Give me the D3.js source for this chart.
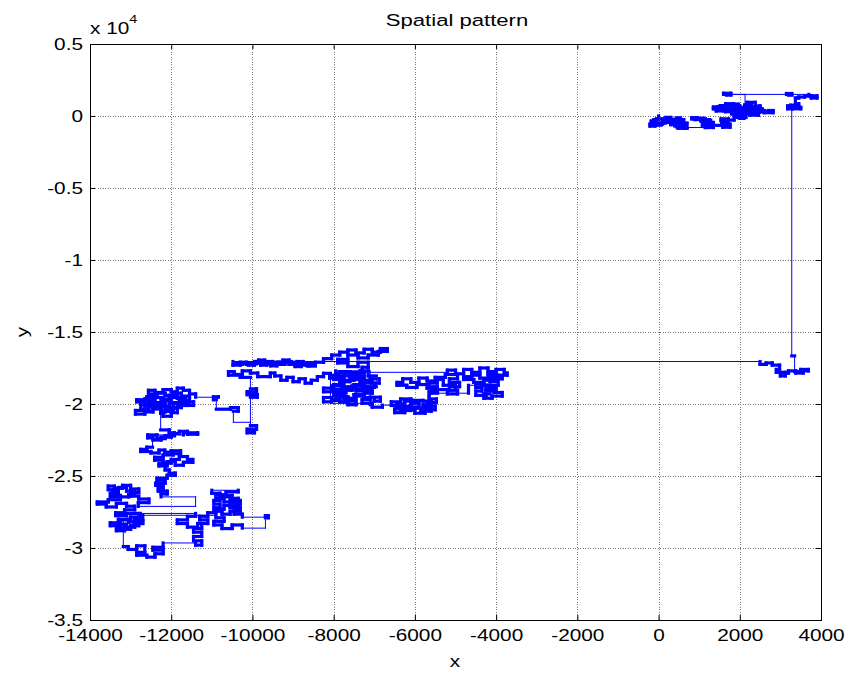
<!DOCTYPE html>
<html><head><meta charset="utf-8">
<script src="https://cdn.jsdelivr.net/npm/d3@7"></script>
<style>
html,body{margin:0;padding:0;background:#fff;}
text{font-family:"Liberation Sans",Arial,sans-serif;fill:#000;}
</style></head><body>
<svg id="chart" width="862" height="680"></svg>
<script>
// Axis ticks and labels
const xTicks = [-14000,-12000,-10000,-8000,-6000,-4000,-2000,0,2000,4000];
const yTicks = [-35000,-30000,-25000,-20000,-15000,-10000,-5000,0,5000];
const yTickLabels = ["-3.5","-3","-2.5","-2","-1.5","-1","-0.5","0","0.5"];
const titleText = "Spatial pattern";
const xLabelText = "x";
const yLabelText = "y";

// Walk positions [x, y], in walk order, grouped by region
const walkNorthEast = [[0,0],[0,-250],[-120,-250],[-120,-420],[-60,-420],[-60,-560],[-210,-560],[-210,-700],[-90,-700],[-90,-620],[60,-620],
[-30,-500],[-180,-500],[-180,-350],[-50,-350],[-50,-200],[100,-200],[100,-550],[60,-550],
[60,-480],[160,-480],[160,-330],[180,-330],[180,-100],[300,-100],[300,-230],[440,-230],[440,-140],[540,-140],[540,-330],[360,-330],[360,-450],[580,-450],[580,-560],[400,-560],[400,-680],[520,-680],[520,-620],[650,-620],[650,-780],[480,-780],[480,-850],[700,-850],
[600,-750],[450,-750],[450,-600],[300,-600],[300,-450],[200,-450],[200,-250],[350,-250],[350,-400],[500,-400],[500,-250],[620,-250],[620,-500],[700,-500],
[700,-800],[1200,-800],[1200,-650],[1340,-650],[1340,-500],[1100,-500],[1100,-400],[1280,-400],[1280,-300],[1150,-300],[1150,-200],[960,-200],[960,-120],[820,-120],[820,-200],[1040,-200],[1040,-320],[1220,-320],[1220,-560],[1080,-560],[1080,-700],[1300,-700],[1300,-600],
[1300,-450],[1180,-450],[1180,-350],[1050,-350],[1050,-250],[900,-250],[900,-160],[1100,-160],[1100,-250],[1250,-250],[1250,-450],[1350,-450],[1350,-800],[1150,-800],[1150,-650],[1300,-650],
[1560,-600],[1560,-450],[1700,-450],[1700,-700],[1580,-700],[1580,-780],[1760,-780],[1760,-560],[1640,-560],[1640,-330],[1540,-330],[1540,-200],[1720,-200],[1720,-280],[1860,-280],[1860,-50],[2000,-50],[2000,-160],[2100,-160],[2100,100],[1900,100],[1900,250],[2060,250],[2060,380],[1800,380],[1800,450],[1600,450],[1600,350],[1420,350],[1420,500],[1350,500],[1350,620],[1520,620],[1520,720],[1700,720],[1700,560],[1880,560],[1880,680],[1760,680],[1760,820],[1960,820],[1960,600],[2120,600],[2120,760],[2280,760],[2280,900],[2180,900],[2180,950],[2380,950],[2380,700],[2500,700],[2500,520],[2300,520],[2300,420],[2150,420],[2150,300],[2400,300],[2400,180],[2250,180],[2250,60],[2460,60],[2460,380],[2600,380],[2600,230],[2820,230],[2820,380],[2700,380],[2700,300],[2550,300],[2550,500],[2380,500],[2380,620],[2200,620],[2200,520],[2000,520],[2000,700],
[1850,700],[1850,850],[1650,850],[1650,650],[1450,650],[1450,420],[1650,420],[1650,300],[1800,300],[1800,150],[1950,150],[1950,-100],[2150,-100],[2150,150],[2350,150],[2350,420],[2480,420],[2480,250],[2130,250],[2130,700],[2130,1500],
[1600,1500],[1600,1580],[1780,1580],[1780,1460],[1680,1460],[1680,1500],[3150,1500],[3150,1560],[3280,1560],[3280,1460],[3200,1460],[3200,1500],[3700,1500],[3700,1400],[3900,1400],[3900,1250],[3760,1250],[3760,1400],[3600,1400],[3600,1320],[3450,1320],[3450,1250],[3370,1250],[3370,850],[3450,850],[3450,750],[3250,750],[3250,600],[3500,600],[3500,500],[3300,500],[3300,700],[3180,700],[3180,500],[3280,500],[3280,-16660]];

const walkEastDrop = [[3350,-16660],[3350,-17750],[3500,-17750],[3500,-17600],[3690,-17600],[3690,-17700],[3560,-17700],[3560,-17850],[3380,-17850],[3380,-17700],[3200,-17700],[3200,-17850],[3000,-17850],[3000,-18050],[3120,-18050],[3120,-17800],[2900,-17800],[2900,-17600],[2980,-17600],[2980,-17300],[2800,-17300],[2800,-17150],[2650,-17150],[2650,-17250],[2500,-17250],[2500,-17050]];

const walkCentral = [[-10480,-17050],[-10480,-17300],[-10300,-17300],[-10300,-17100],[-10150,-17100],[-10150,-17250],[-10000,-17250],[-10000,-17150],[-9850,-17150],[-9850,-16950],[-9700,-16950],[-9700,-17200],[-9550,-17200],[-9550,-17350],[-9400,-17350],[-9400,-17100],[-9250,-17100],[-9250,-16950],[-9100,-16950],[-9100,-17250],[-8950,-17250],[-8950,-17400],[-8800,-17400],[-8800,-17150],[-8650,-17150],[-8650,-17350],[-8450,-17350],
[-8600,-17250],[-8750,-17250],[-8750,-17050],[-8900,-17050],[-8900,-17150],[-9050,-17150],[-9050,-17050],[-9200,-17050],[-9200,-17250],[-9350,-17250],[-9350,-17150],[-9500,-17150],[-9500,-17050],[-9650,-17050],[-9650,-17300],[-9800,-17300],[-9800,-17050],[-9950,-17050],[-9950,-17300],[-10100,-17300],[-10100,-17150],[-10250,-17150],[-10250,-17250],[-10400,-17250],[-10400,-17150],
[-10150,-17200],[-9900,-17200],[-9900,-17100],[-9600,-17100],[-9600,-17250],[-9350,-17250],[-9350,-17100],[-9100,-17100],[-8850,-17100],[-8850,-17300],[-8600,-17300],[-8600,-17200],[-8450,-17200],
[-8450,-17100],[-8250,-17100],[-8250,-16850],[-8050,-16850],[-8050,-16600],[-7850,-16600],[-7850,-16400],[-7650,-16400],[-7650,-16250],[-7450,-16250],[-7450,-16450],[-7250,-16450],[-7250,-16200],[-7050,-16200],[-7050,-16400],[-6850,-16400],[-6850,-16150],[-6680,-16150],[-6680,-16350],[-6900,-16350],[-6900,-16600],[-7150,-16600],[-7150,-16800],[-7400,-16800],[-7400,-16600],[-7650,-16600],[-7650,-16900],[-7900,-16900],[-7900,-17150],[-7650,-17150],[-7650,-17400],[-7400,-17400],[-7400,-17100],[-7150,-17100],[-7150,-17450],[-7300,-17450],[-7300,-17800],
[-5200,-17800],[-5200,-17650],[-5000,-17650],[-5000,-17900],[-4800,-17900],[-4800,-17600],[-4600,-17600],[-4600,-17800],[-4400,-17800],[-4400,-17500],[-4200,-17500],[-4200,-17750],[-4000,-17750],[-4000,-17600],[-3800,-17600],[-3800,-17850],[-3730,-17850],[-3730,-18000],[-3950,-18000],[-3950,-18150],[-4150,-18150],[-4150,-18450],[-3950,-18450],[-3950,-18700],[-4250,-18700],[-4250,-18950],[-4050,-18950],[-4050,-19200],[-3850,-19200],[-3850,-19450],[-4100,-19450],[-4100,-19600],[-4300,-19600],[-4300,-19300],[-4150,-19300],[-4150,-18700],
[-4350,-18500],[-4550,-18500],[-4550,-18300],[-4800,-18300],[-4800,-18100],[-4600,-18100],[-4600,-18000],[-4400,-18000],[-4400,-18200],[-4200,-18200],[-4200,-17950],[-4000,-17950],[-4000,-18250],[-3850,-18250],[-3850,-18050],[-4050,-18050],[-4050,-18350],[-4300,-18350],[-4300,-18600],[-4500,-18600],[-4500,-18850],[-4350,-18850],[-4350,-19100],[-4500,-19100],[-4500,-19400],[-4250,-19400],[-4250,-19100],[-4000,-19100],[-4000,-18850],[-4150,-18850],[-4150,-18700],
[-4680,-18700],[-4680,-19250],[-5440,-19250],
[-5600,-19250],[-5600,-19050],[-5450,-19050],[-5450,-18800],[-5650,-18800],[-5650,-18550],[-5450,-18550],[-5450,-18300],[-5300,-18300],[-5300,-18700],[-5000,-18700],[-5000,-19000],
[-5440,-19000],[-5200,-19000],[-5200,-19300],[-4950,-19300],[-4950,-19050],[-5150,-19050],[-5150,-18800],[-4900,-18800],[-4900,-18500],[-5150,-18500],[-5150,-18250],[-4950,-18250],[-4950,-17950],[-5250,-17950],[-5250,-18150],[-5500,-18150],[-5500,-18400],[-5700,-18400],[-5700,-18200],[-5900,-18200],[-5900,-18500],[-6100,-18500],[-6100,-18250],[-6300,-18250],[-6300,-18500],[-6440,-18500],[-6440,-18700],[-6200,-18700],[-6200,-18850],[-5950,-18850],[-5950,-18650],[-5700,-18650],[-5700,-18900],[-5500,-18900],[-5500,-19150],[-5650,-19150],[-5650,-19400],
[-5650,-19650],[-5470,-19650],[-5470,-19900],[-5700,-19900],[-5700,-20150],[-5500,-20150],[-5500,-20400],[-5750,-20400],[-5750,-20640],[-6000,-20640],[-6000,-20400],[-6250,-20400],[-6250,-20600],[-6500,-20600],[-6500,-20350],[-6300,-20350],[-6300,-20100],[-6580,-20100],[-6580,-19850],[-6350,-19850],[-6350,-19650],[-6100,-19650],[-6100,-19950],[-5900,-19950],[-5900,-20200],[-6100,-20200],
[-6350,-20250],[-6350,-20450],[-6100,-20450],[-6100,-20300],[-5850,-20300],[-5850,-20500],[-5600,-20500],[-5600,-20250],[-5800,-20250],[-5800,-20050],[-5600,-20050],[-5600,-19800],[-5800,-19800],[-5800,-19750],[-6050,-19750],[-6050,-19800],[-6250,-19800],[-6250,-20000],[-6450,-20000],[-6450,-20200],[-6100,-20200],
[-6100,-20080],[-6800,-20080],
[-6800,-20220],[-7050,-20220],[-7050,-19950],[-7300,-19950],[-7300,-19700],[-7100,-19700],[-7100,-19530],[-6850,-19530],[-6850,-19800],[-7000,-19800],[-7000,-19550],
[-7250,-19550],[-7250,-19350],[-7500,-19350],[-7500,-19650],[-7750,-19650],[-7750,-19400],[-8000,-19400],[-8000,-19150],[-8250,-19150],[-8250,-18900],[-8000,-18900],[-8000,-18650],[-7750,-18650],[-7750,-18900],[-7500,-18900],[-7500,-18650],[-7250,-18650],[-7250,-18850],[-7000,-18850],[-7000,-18550],[-6880,-18550],[-6880,-18250],[-7100,-18250],[-7100,-18450],[-7350,-18450],[-7350,-18200],[-7600,-18200],[-7600,-18450],[-7850,-18450],[-7850,-18200],[-8100,-18200],[-8100,-18000],[-7850,-18000],[-7850,-17750],[-7600,-17750],[-7600,-17950],[-7350,-17950],[-7350,-17700],[-7150,-17700],[-7150,-18050],[-6950,-18050],[-6950,-18800],[-7200,-18800],[-7200,-19100],[-7450,-19100],[-7450,-18950],[-7700,-18950],[-7700,-19200],[-7950,-19200],[-7950,-19450],[-7700,-19450],[-7700,-19800],[-7450,-19800],[-7450,-20050],
[-7650,-20050],[-7650,-19850],[-7850,-19850],[-7850,-19750],[-8050,-19750],[-8050,-19850],[-8250,-19850],[-8250,-19550],[-8050,-19550],[-8050,-19650],[-7850,-19650],[-7850,-19500],[-7650,-19500],[-7650,-19600],[-7450,-19600],[-7450,-19450],[-7250,-19450],[-7250,-19250],[-7050,-19250],[-7050,-19050],[-7300,-19050],[-7300,-18950],[-7550,-18950],[-7550,-19050],[-7800,-19050],[-7800,-19000],[-8050,-19000],[-8050,-18750],[-7800,-18750],[-7800,-18800],[-7550,-18800],[-7550,-18750],[-7300,-18750],[-7300,-18550],[-7050,-18550],[-7050,-18350],[-7250,-18350],[-7250,-18300],[-7500,-18300],[-7500,-18350],[-7750,-18350],[-7750,-18300],[-8000,-18300],[-8000,-18100],[-7750,-18100],[-7750,-18050],[-7500,-18050],[-7500,-18100],[-7250,-18100],[-7250,-17850],[-7450,-17850],[-7450,-17800],[-7700,-17800],[-7700,-17850],[-7950,-17850],[-7950,-17700],[-7100,-17700],
[-7100,-20050],[-7100,-19950],[-8080,-19950],[-8080,-17870],[-8250,-17870],
[-8250,-18100],[-8400,-18100],[-8400,-18350],[-8550,-18350],[-8550,-18550],[-8700,-18550],[-8700,-18250],[-8850,-18250],[-8850,-18450],[-9000,-18450],[-9000,-18150],[-9150,-18150],[-9150,-18350],[-9300,-18350],[-9300,-18050],[-9450,-18050],[-9450,-17850],[-9560,-17850],[-9560,-18100],
[-9870,-18100],[-9870,-17850],[-10050,-17850],[-10050,-17700],[-10250,-17700],[-10250,-17950],[-10450,-17950],[-10450,-17750],[-10590,-17750],[-10590,-18000],[-10300,-18000],[-10300,-18150],[-10050,-18150],
[-10050,-18950],[-9900,-18950],[-9900,-19150],[-10130,-19150],[-10130,-19350],[-9880,-19350],[-9880,-19530],[-10050,-19530],[-10050,-21500],[-9900,-21500],[-9900,-21750],[-10130,-21750],[-10130,-22000],[-9950,-22000],[-9950,-21850],[-10050,-21850],[-10050,-21270],[-10470,-21270],[-10470,-20500],[-10350,-20500],[-10350,-20250],[-10540,-20250],[-10540,-20360],[-10890,-20360],[-10890,-19700],[-10960,-19700],[-10960,-19500],[-10840,-19500],[-10840,-19530],[-11400,-19530]];

const walkWestUpper = [[-11400,-19300],[-11550,-19300],[-11550,-19050],[-11700,-19050],[-11700,-18900],[-11850,-18900],[-11850,-19150],[-12000,-19150],[-12000,-19000],[-12200,-19000],[-12200,-19200],[-12400,-19200],[-12400,-19050],[-12560,-19050],[-12560,-19300],[-12350,-19300],[-12350,-19500],[-12600,-19500],[-12600,-19700],[-12850,-19700],[-12850,-19850],[-12650,-19850],[-12650,-19650],[-12450,-19650],[-12450,-19900],[-12250,-19900],[-12250,-19650],[-12050,-19650],[-12050,-19400],[-11850,-19400],[-11850,-19600],[-11650,-19600],[-11650,-19850],[-11450,-19850],[-11450,-20100],[-11700,-20100],[-11700,-19950],[-11950,-19950],[-11950,-20200],[-12150,-20200],[-12150,-19950],[-12350,-19950],[-12350,-20150],[-12550,-20150],[-12550,-20050],[-12750,-20050],[-12750,-20350],[-12550,-20350],[-12550,-20450],[-12880,-20450],[-12880,-20700],[-12650,-20700],[-12650,-20550],[-12450,-20550],[-12450,-20350],[-12250,-20350],[-12250,-20500],[-12050,-20500],[-12050,-20300],[-11850,-20300],[-11850,-20600],[-12000,-20600],[-12000,-20850],[-12200,-20850],[-12200,-20650],[-12260,-20650],
[-12260,-20250],[-12450,-20250],[-12450,-20150],[-12650,-20150],[-12650,-19950],[-12450,-19950],[-12450,-20050],[-12250,-20050],[-12250,-20150],[-12050,-20150],[-12050,-19900],[-11850,-19900],[-11850,-20100],[-11600,-20100],[-11600,-19750],[-11800,-19750],[-11800,-19550],[-12000,-19550],[-12000,-19750],[-12200,-19750],[-12200,-19550],[-12400,-19550],[-12400,-19750],[-12550,-19750],[-12550,-19400],[-12350,-19400],[-12350,-19250],[-12150,-19250],[-12150,-19400],[-11950,-19400],[-11950,-19250],[-11750,-19250],[-11750,-19450],[-11550,-19450],[-11550,-19650],[-11550,-19900],[-11750,-19900],[-11750,-20250],[-11950,-20250],[-11950,-20400],[-12150,-20400],[-12150,-20550],[-12260,-20550],
[-12260,-21800],
[-12050,-21800],[-12050,-22000],[-11920,-22000],[-11920,-22200],[-12150,-22200],[-12150,-22400],[-12350,-22400],[-12350,-22150],[-12580,-22150],[-12580,-22350],[-12450,-22350],[-12450,-22500],[-12250,-22500],[-12250,-22300],[-12000,-22300],[-12000,-22050],[-11800,-22050],[-11800,-21900],[-11600,-21900],[-11600,-22100],[-11350,-22100],[-11350,-22000],[-11700,-22000],[-11700,-22150],[-12460,-22150],[-12460,-23000],
[-12600,-23000],[-12600,-23150],[-12750,-23150],[-12750,-23300],[-12500,-23300],[-12500,-23400],[-12300,-23400],[-12300,-23200],[-12160,-23200],[-12160,-23350],[-12000,-23350],[-12000,-23250],[-11770,-23250],[-11770,-23450],[-11950,-23450],[-11950,-23540],
[-12200,-23540],[-12200,-23700],[-12410,-23700],[-12410,-23900],[-12200,-23900],[-12200,-24100],[-12000,-24100],[-12000,-23850],[-11800,-23850],[-11800,-23650],[-11600,-23650],[-11600,-23850],[-11470,-23850],[-11470,-24050],[-11700,-24050],[-11700,-24250],[-11900,-24250],[-11900,-24000],[-12100,-24000],[-12100,-24300],[-12300,-24300],[-12300,-24150],[-12150,-24150],[-12150,-24580],[-12050,-24580]];

const walkWestLower = [[-12050,-24800],[-11900,-24800],[-11900,-24950],[-12100,-24950],[-12100,-25150],[-12350,-25150],[-12350,-25300],[-12150,-25300],[-12150,-25500],[-12380,-25500],[-12380,-25650],[-12200,-25650],[-12200,-25850],[-12320,-25850],[-12320,-26050],[-12100,-26050],[-12100,-26250],[-12250,-26250],[-12250,-26450],[-11400,-26450],[-11400,-27110],
[-12810,-27110],[-12810,-26850],[-12550,-26850],[-12550,-26600],[-12800,-26600],[-12800,-26400],[-13000,-26400],[-13000,-26150],[-12800,-26150],[-12800,-25900],[-13000,-25900],[-13000,-25650],[-13200,-25650],[-13200,-25850],[-13400,-25850],[-13400,-25700],[-13550,-25700],[-13550,-25950],[-13300,-25950],[-13300,-26200],[-13500,-26200],[-13500,-26450],[-13250,-26450],
[-13050,-26450],[-13050,-26300],[-12900,-26300],[-12900,-26050],[-13100,-26050],[-13100,-25800],[-13300,-25800],[-13300,-26050],[-13450,-26050],[-13450,-26350],[-13250,-26350],
[-13250,-26650],[-13550,-26650],[-13550,-26800],[-13820,-26800],[-13820,-26950],[-13600,-26950],[-13600,-27150],[-13350,-27150],[-13350,-26900],[-13100,-26900],[-13100,-27100],[-12900,-27100],[-12900,-27350],[-13150,-27350],[-13150,-27550],[-13370,-27550],[-13370,-27750],[-13100,-27750],[-13100,-27600],[-12800,-27600],[-12800,-27850],[-13000,-27850],[-13000,-28050],[-13250,-28050],[-13250,-28250],[-13500,-28250],[-13500,-28450],[-13250,-28450],[-13250,-28700],[-13000,-28700],[-13000,-28450],[-12800,-28450],[-12800,-28200],[-13050,-28200],[-13050,-28000],
[-13300,-28100],[-13300,-28350],[-13100,-28350],[-13100,-28600],[-13350,-28600],[-13350,-28800],[-13150,-28800],[-13150,-28550],[-12900,-28550],[-12900,-28300],[-12700,-28300],[-12700,-28100],[-12900,-28100],[-12900,-27950],[-12760,-27950],
[-12760,-28000],[-12760,-27600],[-11400,-27600],
[-11400,-27800],[-11600,-27800],[-11600,-28050],[-11850,-28050],[-11850,-28300],[-11600,-28300],[-11600,-28550],[-11350,-28550],[-11350,-28300],[-11100,-28300],[-11100,-28050],[-11300,-28050],[-11300,-27800],[-11100,-27800],[-11100,-27550],[-10900,-27550],[-10900,-27300],[-10700,-27300],[-10700,-27050],[-10450,-27050],[-10450,-26800],[-10700,-26800],[-10700,-26550],[-10900,-26550],[-10900,-26300],[-10650,-26300],[-10650,-26100],[-10350,-26100],[-10350,-25990],[-11000,-25990],[-11000,-26200],[-10800,-26200],[-10800,-26450],[-10550,-26450],[-10550,-26700],[-10300,-26700],[-10300,-26950],[-10550,-26950],[-10550,-27200],[-10300,-27200],[-10300,-27450],[-10550,-27450],[-10550,-27650],
[-10750,-27650],[-10750,-27450],[-10950,-27450],[-10950,-27200],[-10800,-27200],[-10800,-26950],[-10950,-26950],[-10950,-26700],[-10800,-26700],[-10800,-26350],[-10500,-26350],[-10500,-26550],[-10350,-26550],[-10350,-26850],[-10450,-26850],[-10450,-27100],[-10350,-27100],[-10350,-27350],[-10450,-27350],[-10450,-27650],
[-10250,-27650],[-10250,-27860],[-9680,-27860],[-9680,-27750],[-9610,-27750],[-9610,-27900],[-9680,-27900],[-9680,-28620],[-10250,-28620],[-10250,-28400],[-10500,-28400],[-10500,-28650],[-10750,-28650],[-10750,-28400],[-10950,-28400],[-10950,-28150],[-10700,-28150],[-10700,-27900],[-10900,-27900],[-10900,-27730],
[-12700,-27730],[-12700,-28060],[-13180,-28060],[-13180,-29900],[-13060,-29900],[-13060,-30100],[-12850,-30100],[-12850,-29850],[-12650,-29850],[-12650,-30300],[-12850,-30300],[-12850,-30500],[-12600,-30500],[-12600,-30630],[-12400,-30630],[-12400,-30400],[-12200,-30400],[-12200,-30150],[-12450,-30150],[-12450,-29950],[-12200,-29950],[-12200,-29650],[-11400,-29650],[-11400,-29800],[-11250,-29800],[-11250,-29500],[-11450,-29500],[-11450,-29200],[-11250,-29200],[-11250,-28900],[-11450,-28900],[-11450,-28650],[-11250,-28650],[-11250,-28420]];

const walk = [].concat(walkNorthEast, walkEastDrop, walkCentral, walkWestUpper, walkWestLower);

// Layout
const W = 862, H = 680;
const plot = {left: 90, right: 821, top: 44, bottom: 620};
const SX = 1.3; // horizontal text stretch

const svg = d3.select("#chart");
svg.append("rect").attr("width", W).attr("height", H).attr("fill", "#fff");

const x = d3.scaleLinear().domain([-14000, 4000]).range([plot.left, plot.right]);
const y = d3.scaleLinear().domain([-35000, 5000]).range([plot.bottom, plot.top]);

// Dotted grid
const grid = svg.append("g").attr("stroke", "#7a7a7a").attr("stroke-width", 1)
  .attr("stroke-dasharray", "1,1.5").attr("shape-rendering", "crispEdges");
grid.selectAll("line.gx").data(xTicks.slice(1, -1)).join("line").attr("class", "gx")
  .attr("x1", d => Math.round(x(d)) + 0.5).attr("x2", d => Math.round(x(d)) + 0.5)
  .attr("y1", plot.top).attr("y2", plot.bottom);
grid.selectAll("line.gy").data(yTicks.slice(1, -1)).join("line").attr("class", "gy")
  .attr("y1", d => Math.round(y(d)) + 0.5).attr("y2", d => Math.round(y(d)) + 0.5)
  .attr("x1", plot.left).attr("x2", plot.right);

// The walk: every move is an axis-aligned step (horizontal, then vertical).
// Long jumps are hairlines; the many short moves pile up into dense blue patches.
const steps = [];
for (let i = 1; i < walk.length; i++) {
  const [x0, y0] = walk[i - 1], [x1, y1] = walk[i];
  if (x1 !== x0) steps.push({x0, y0, x1, y1: y0, horiz: true});
  if (y1 !== y0) steps.push({x0: x1, y0, x1, y1, horiz: false});
}
const isShort = s => s.horiz ? Math.abs(x(s.x1) - x(s.x0)) < 15 : Math.abs(y(s.y1) - y(s.y0)) < 8;
svg.append("g").attr("stroke", "#0000ff").attr("stroke-linecap", "square")
  .selectAll("line").data(steps).join("line")
  .attr("x1", s => x(s.x0)).attr("y1", s => y(s.y0))
  .attr("x2", s => x(s.x1)).attr("y2", s => y(s.y1))
  .attr("stroke-width", s => isShort(s) ? 3.2 : 1);

// Axes with inward ticks
function styleAxis(g) {
  g.select(".domain").remove();
  g.selectAll(".tick line").attr("stroke", "#000");
  g.selectAll("text").attr("font-size", 16).attr("font-family", "Liberation Sans, Arial, sans-serif");
}
const gx = svg.append("g").attr("transform", `translate(0,${plot.bottom})`)
  .call(d3.axisBottom(x).tickValues(xTicks).tickSizeInner(-5).tickSizeOuter(0).tickPadding(10).tickFormat(d => String(d)))
  .call(styleAxis);
gx.selectAll("text").attr("transform", `scale(${SX},1)`);

svg.append("g").attr("transform", `translate(0,${plot.top})`)
  .call(d3.axisTop(x).tickValues(xTicks).tickSizeInner(-5).tickSizeOuter(0).tickFormat(""))
  .call(styleAxis);

const gy = svg.append("g").attr("transform", `translate(${plot.left},0)`)
  .call(d3.axisLeft(y).tickValues(yTicks).tickSizeInner(-5).tickSizeOuter(0).tickPadding(7).tickFormat((d, i) => yTickLabels[i]))
  .call(styleAxis);
gy.selectAll("text").attr("x", -7 / SX).attr("transform", `scale(${SX},1)`);

svg.append("g").attr("transform", `translate(${plot.right},0)`)
  .call(d3.axisRight(y).tickValues(yTicks).tickSizeInner(-5).tickSizeOuter(0).tickFormat(""))
  .call(styleAxis);

// Frame
svg.append("rect").attr("x", plot.left + 0.5).attr("y", plot.top + 0.5)
  .attr("width", plot.right - plot.left).attr("height", plot.bottom - plot.top)
  .attr("fill", "none").attr("stroke", "#000").attr("stroke-width", 1);

// Titles and labels
function label(tx, ty, txt, anchor, rot, size) {
  return svg.append("text")
    .attr("transform", `translate(${tx},${ty})${rot ? ` rotate(${rot})` : ""} scale(${SX},1)`)
    .attr("text-anchor", anchor).attr("font-size", size || 16).text(txt);
}
label(457, 26, titleText, "middle", 0, 17);
label(455, 667, xLabelText, "middle");
label(28, 332, yLabelText, "middle", -90);

const expo = svg.append("text").attr("transform", `translate(90,34) scale(${SX},1)`).attr("font-size", 16);
expo.append("tspan").text("x 10");
expo.append("tspan").attr("font-size", 11).attr("dy", -11).text("4");
</script></body></html>
